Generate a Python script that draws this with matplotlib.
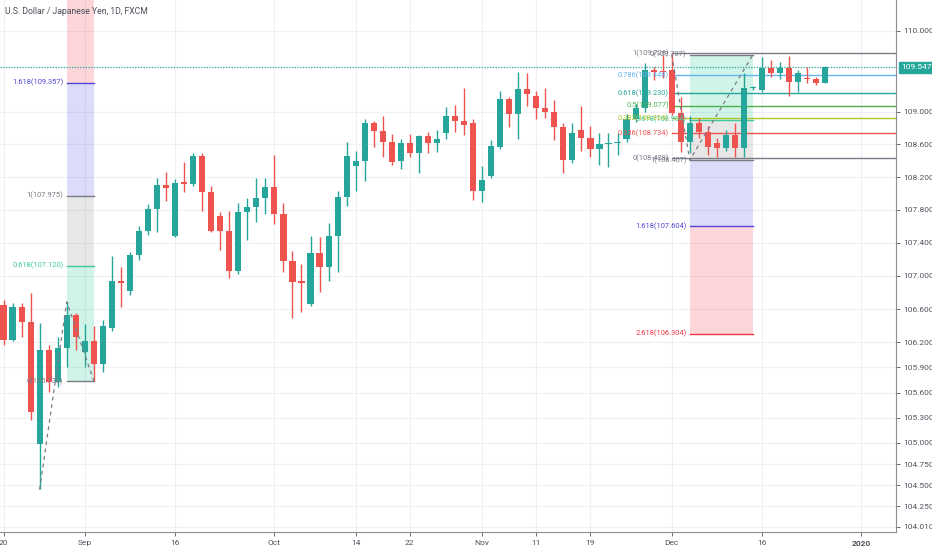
import numpy as np
import matplotlib.pyplot as plt
from matplotlib.ticker import FixedLocator, NullLocator, NullFormatter

plt.rcParams['font.family'] = ['Roboto', 'DejaVu Sans']

# daily USD/JPY candles, Aug 20 2019 .. Dec 26 2019 (trading-day index 0..91)
opens = [106.65, 106.23, 106.63, 106.45, 104.99, 106.11, 105.73, 106.13, 106.53, 106.09,
         106.21, 105.94, 106.37, 106.94, 106.82, 107.25, 107.54, 107.81, 108.10, 107.48,
         108.14, 108.12, 108.46, 108.02, 107.73, 107.54, 107.06, 107.77, 107.83, 107.95,
         108.08, 107.75, 107.18, 106.94, 106.66, 107.28, 107.11, 107.48, 107.96, 108.34,
         108.40, 108.86, 108.77, 108.63, 108.40, 108.62, 108.49, 108.70, 108.62, 108.74,
         108.95, 108.89, 108.86, 108.03, 108.21, 108.57, 109.16, 108.97, 109.28, 109.20,
         109.05, 109.00, 108.81, 108.41, 108.78, 108.68, 108.54, 108.60, 108.62, 108.67,
         108.91, 109.05, 109.52, 109.50, 109.52, 108.99, 108.63, 108.86, 108.75, 108.62,
         108.55, 108.71, 108.55, 109.29, 109.27, 109.54, 109.48, 109.54, 109.37, 109.42,
         109.40, 109.36]
highs = [106.71, 106.67, 106.67, 106.79, 106.43, 106.17, 106.26, 106.69, 106.55, 106.42,
         106.40, 106.47, 107.24, 107.11, 107.29, 107.60, 107.87, 108.19, 108.26, 108.18,
         108.38, 108.49, 108.49, 108.09, 107.77, 107.79, 107.88, 107.95, 108.19, 108.19,
         108.47, 107.88, 107.30, 107.14, 107.48, 107.47, 107.64, 108.03, 108.63, 108.52,
         108.91, 108.89, 108.95, 108.73, 108.67, 108.73, 108.72, 108.75, 108.78, 109.06,
         109.09, 109.29, 108.91, 108.34, 108.65, 109.26, 109.18, 109.49, 109.48, 109.26,
         109.29, 109.15, 108.86, 108.86, 109.07, 108.83, 108.74, 108.74, 108.74, 108.97,
         109.10, 109.60, 109.55, 109.70, 109.73, 109.18, 108.95, 108.93, 108.82, 108.68,
         108.78, 108.86, 109.48, 109.32, 109.68, 109.64, 109.62, 109.69, 109.52, 109.55,
         109.43, 109.57]
lows = [106.17, 106.21, 106.26, 105.27, 104.45, 105.61, 105.67, 105.91, 106.11, 105.91,
        105.74, 105.84, 106.34, 106.63, 106.77, 107.19, 107.50, 107.53, 107.91, 107.47,
        108.02, 108.09, 107.79, 107.53, 107.31, 106.98, 107.02, 107.43, 107.65, 107.75,
        107.63, 107.05, 106.49, 106.57, 106.64, 106.80, 106.94, 107.05, 107.85, 108.03,
        108.15, 108.57, 108.45, 108.35, 108.30, 108.44, 108.25, 108.50, 108.51, 108.67,
        108.75, 108.72, 107.92, 107.89, 108.19, 108.54, 108.81, 108.67, 109.07, 108.91,
        108.93, 108.65, 108.25, 108.37, 108.52, 108.45, 108.35, 108.32, 108.47, 108.63,
        108.87, 109.00, 109.39, 109.42, 108.96, 108.51, 108.50, 108.68, 108.47, 108.44,
        108.52, 108.45, 108.45, 109.27, 109.24, 109.43, 109.41, 109.19, 109.24, 109.36,
        109.33, 109.36]
closes = [106.23, 106.63, 106.45, 105.37, 106.11, 105.73, 106.13, 106.53, 106.26, 106.21,
          105.94, 106.39, 106.94, 106.91, 107.25, 107.54, 107.81, 108.10, 108.07, 108.13,
          108.12, 108.46, 108.02, 107.54, 107.54, 107.06, 107.77, 107.83, 107.94, 108.08,
          107.75, 107.18, 106.93, 106.91, 107.28, 107.11, 107.48, 107.96, 108.46, 108.40,
          108.86, 108.77, 108.63, 108.38, 108.62, 108.49, 108.70, 108.62, 108.67, 108.95,
          108.89, 108.84, 108.03, 108.17, 108.58, 109.16, 108.97, 109.28, 109.22, 109.05,
          109.00, 108.81, 108.41, 108.74, 108.68, 108.54, 108.60, 108.62, 108.63, 108.91,
          109.05, 109.52, 109.49, 109.49, 108.99, 108.63, 108.86, 108.75, 108.57, 108.55,
          108.71, 108.55, 109.29, 109.31, 109.54, 109.48, 109.54, 109.37, 109.48, 109.40,
          109.36, 109.547]

last_price = 109.547

x_tick_pos = [0, 9, 19, 30, 39, 45, 53, 59, 65, 74, 84, 95]
x_tick_labels = ["20", "Sep", "16", "Oct", "14", "22", "Nov", "11", "19", "Dec", "16", "2020"]
y_ticks = [110.0, 109.0, 108.6, 108.2, 107.8, 107.4, 107.0, 106.6, 106.2, 105.9,
           105.6, 105.3, 105.0, 104.75, 104.5, 104.25, 104.01]

# trend-based fib extensions: (index, price) for A, B, C
ext_left = [(4, 104.45), (7, 106.687), (10, 105.7378)]
ext_right = [(74, 109.707), (76, 108.407), (83, 109.707)]
# fib retracement (start index, high, low)
retr_start = 74
retr_high = 109.726
retr_low = 108.428

UP = '#26a69a'
DOWN = '#ef5350'
GREY = '#787b86'
XMIN, XMAX = -0.39, 98.84
YMIN, YMAX = 103.95, 110.385

fig = plt.figure(figsize=(9.32, 5.5), dpi=100)
ax = fig.add_axes([0, 18 / 550, 896 / 932, 532 / 550])
ax.set_yscale('log')
ax.set_xlim(XMIN, XMAX)
ax.set_ylim(YMIN, YMAX)

# grid
for yv in y_ticks:
    ax.axhline(yv, color='#eef0f4', lw=0.8, zorder=0)
for xv in x_tick_pos:
    ax.axvline(xv, color='#eef0f4', lw=0.8, zorder=0)


def fmt_ratio(r):
    return f"{r:g}"


def draw_extension(pts, levels, fills, ax):
    (xa, pa), (xb, pb), (xc, pc) = pts
    vals = {r: pc + r * (pb - pa) for r, _ in levels}
    for r0, r1, col in fills:
        ax.fill_between([xb, xc], vals[r0], vals[r1], color=col, alpha=0.2, lw=0, zorder=1)
    for r, col in levels:
        v = vals[r]
        if YMIN < v < YMAX:
            ax.plot([xb, xc], [v, v], color=col, lw=1, zorder=2)
            ax.text(xb - 0.35, v, f"{fmt_ratio(r)}({v:.3f})", color=col, fontsize=5.4,
                    ha='right', va='center', zorder=5)
    ax.plot([xa, xb, xc], [pa, pb, pc], color=GREY, lw=0.9, ls=(0, (3, 3)), zorder=4)


ext_levels = [(0, GREY), (0.618, '#3ec99a'), (1, GREY), (1.618, '#5046d8'), (2.618, '#f23645')]
ext_fills = [(0, 0.618, '#14c98a'), (0.618, 1, '#8a8a8a'), (1, 1.618, '#5050e6'),
             (1.618, 2.618, '#f23645')]
draw_extension(ext_left, ext_levels, ext_fills, ax)
draw_extension(ext_right, ext_levels, ext_fills, ax)

# fib retracement, extended right
retr_levels = [(1, GREY), (0.786, '#64b5f6'), (0.618, '#26a69a'), (0.5, '#4caf50'),
               (0.382, '#b2c22a'), (0.236, '#ef5350'), (0, GREY)]
for r, col in retr_levels:
    v = retr_low + r * (retr_high - retr_low)
    ax.plot([retr_start, XMAX], [v, v], color=col, lw=1, zorder=2)
    ax.text(retr_start - 0.3, v, f"{fmt_ratio(r)}({v:.3f})", color=col, fontsize=5.4,
            ha='right', va='center', zorder=5)

# candles
x = np.arange(len(opens))
o = np.array(opens)
h = np.array(highs)
l = np.array(lows)
c = np.array(closes)
cols = np.where(c >= o, UP, DOWN)
ax.vlines(x, l, h, colors=cols, lw=1, zorder=3)
bottom = np.minimum(o, c)
height = np.maximum(np.abs(c - o), 0.012)
ax.bar(x, height, bottom=bottom, width=0.68, color=cols, lw=0, zorder=3)

# last price line + badge
ax.axhline(last_price, color=UP, lw=0.9, ls=(0, (1, 1.2)), zorder=2)
ax.annotate(f"{last_price:.3f}", xy=(1.0, last_price), xycoords=ax.get_yaxis_transform(),
            xytext=(4, 0), textcoords='offset points', color='white', fontsize=6,
            va='center', ha='left', zorder=6, annotation_clip=False,
            bbox=dict(boxstyle='square,pad=0.35', fc=UP, ec=UP))

# axes styling
ax.yaxis.tick_right()
ax.yaxis.set_major_locator(FixedLocator(y_ticks))
ax.yaxis.set_minor_locator(NullLocator())
ax.yaxis.set_minor_formatter(NullFormatter())
ax.set_yticklabels([f"{v:.3f}" for v in y_ticks])
ax.set_xticks(x_tick_pos)
ax.set_xticklabels(x_tick_labels)
ax.get_xticklabels()[-1].set_fontweight('bold')
ax.tick_params(axis='y', labelsize=6, colors='#50535e', length=3, width=0.6, pad=2)
ax.tick_params(axis='x', labelsize=6, colors='#50535e', length=3, width=0.6, pad=3)
for s in ['top', 'left']:
    ax.spines[s].set_visible(False)
for s in ['bottom', 'right']:
    ax.spines[s].set_color('#8a8d96')
    ax.spines[s].set_linewidth(0.8)

fig.text(5 / 932, 1 - 11 / 550, "U.S. Dollar / Japanese Yen, 1D, FXCM", fontsize=6.2,
         color='#4a4d57', va='center', ha='left')

fig.savefig('out.png', dpi=100)
